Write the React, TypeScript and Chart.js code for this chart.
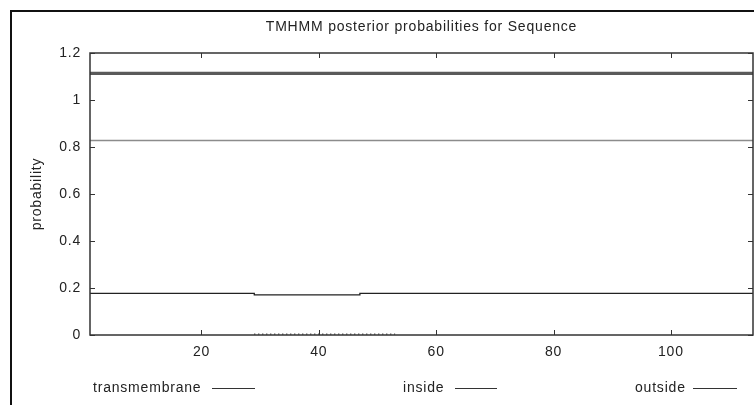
import React, { useEffect, useRef } from "react";
import { Chart, registerables } from "chart.js";

Chart.register(...registerables);

const titleText = "TMHMM posterior probabilities for Sequence";
const yTitle = "probability";
const xMin = 1;
const xMax = 114;
const yMin = 0;
const yMax = 1.2;
const xTickValues = [20, 40, 60, 80, 100];
const yTickValues = [0, 0.2, 0.4, 0.6, 0.8, 1, 1.2];
const yTickLabels = ["0", "0.2", "0.4", "0.6", "0.8", "1", "1.2"];

const legendLabels = ["transmembrane", "inside", "outside"];

// upper thick line
const outsideX = [1, 114];
const outsideY = [1.113, 1.113];
// thin gray line
const upperThinX = [1, 114];
const upperThinY = [0.828, 0.828];
// black line (stepped)
const insideX = [1, 29, 47, 114];
const insideY = [0.177, 0.171, 0.177, 0.177];
// transmembrane (tiny values near 0)
const tmX = [29, 53];
const tmY = [0.004, 0.004];

const FONT = "'Liberation Sans', Arial, sans-serif";
const TEXT = "#222";

function pts(xs: number[], ys: number[]) {
  return xs.map((x, i) => ({ x, y: ys[i] }));
}

const decorPlugin = {
  id: "decor",
  beforeDraw(chart: any) {
    const ctx = chart.ctx;
    (ctx as any).letterSpacing = "0.8px";
  },
  afterDraw(chart: any) {
    const ctx: CanvasRenderingContext2D = chart.ctx;
    const a = chart.chartArea;
    const xs = chart.scales.x;
    const ys = chart.scales.y;
    ctx.save();
    (ctx as any).letterSpacing = "0.8px";
    // outer frame
    ctx.strokeStyle = "#111";
    ctx.lineWidth = 2;
    ctx.strokeRect(11, 11, 800, 500);
    // plot border
    ctx.strokeStyle = "#333";
    ctx.lineWidth = 1.5;
    ctx.strokeRect(a.left, a.top, a.right - a.left, a.bottom - a.top);
    // inward ticks
    ctx.lineWidth = 1;
    const tl = 5;
    ctx.beginPath();
    for (const v of xTickValues) {
      const px = Math.round(xs.getPixelForValue(v)) + 0.5;
      ctx.moveTo(px, a.bottom);
      ctx.lineTo(px, a.bottom - tl);
      ctx.moveTo(px, a.top);
      ctx.lineTo(px, a.top + tl);
    }
    for (const v of yTickValues) {
      const py = Math.round(ys.getPixelForValue(v)) + 0.5;
      ctx.moveTo(a.left, py);
      ctx.lineTo(a.left + tl, py);
      ctx.moveTo(a.right, py);
      ctx.lineTo(a.right - tl, py);
    }
    ctx.stroke();
    // title
    ctx.fillStyle = TEXT;
    ctx.font = `14px ${FONT}`;
    ctx.textBaseline = "middle";
    ctx.textAlign = "center";
    ctx.fillText(titleText, (a.left + a.right) / 2, 27);
    // y title
    ctx.save();
    ctx.translate(37, (a.top + a.bottom) / 2);
    ctx.rotate(-Math.PI / 2);
    ctx.fillText(yTitle, 0, 0);
    ctx.restore();
    // legend
    const legendTextX = [93, 403, 635];
    const legendLineX = [[212, 255], [455, 497], [693, 737]];
    const ly = 388;
    ctx.textAlign = "left";
    legendLabels.forEach((lab, i) => {
      ctx.fillText(lab, legendTextX[i], ly);
      ctx.beginPath();
      ctx.strokeStyle = "#333";
      ctx.lineWidth = 1;
      ctx.moveTo(legendLineX[i][0], ly + 0.5);
      ctx.lineTo(legendLineX[i][1], ly + 0.5);
      ctx.stroke();
    });
    ctx.restore();
  },
};

export default function App() {
  const ref = useRef<HTMLCanvasElement | null>(null);
  useEffect(() => {
    if (!ref.current) return;
    const chart = new Chart(ref.current, {
      type: "line",
      data: {
        datasets: [
          {
            label: "outside",
            data: pts(outsideX, outsideY),
            borderColor: "#5a5a5a",
            borderWidth: 3.2,
            pointRadius: 0,
          },
          {
            label: "upper",
            data: pts(upperThinX, upperThinY),
            borderColor: "#8c8c8c",
            borderWidth: 1.5,
            pointRadius: 0,
          },
          {
            label: "inside",
            data: pts(insideX, insideY),
            borderColor: "#222",
            borderWidth: 1.3,
            pointRadius: 0,
            stepped: true,
          },
          {
            label: "transmembrane",
            data: pts(tmX, tmY),
            borderColor: "#111",
            borderWidth: 1.2,
            borderDash: [1, 3],
            pointRadius: 0,
          },
        ],
      },
      options: {
        animation: false,
        responsive: false,
        layout: { padding: { left: 10, right: 1, top: 53, bottom: 30 } },
        plugins: { legend: { display: false }, tooltip: { enabled: false }, title: { display: false } },
        scales: {
          x: {
            type: "linear",
            min: xMin,
            max: xMax,
            grid: { display: false, drawTicks: false },
            border: { display: false },
            afterBuildTicks: (s: any) => {
              s.ticks = xTickValues.map((v) => ({ value: v }));
            },
            afterFit: (s: any) => {
              s.height = 40;
            },
            ticks: {
              padding: 9,
              color: TEXT,
              font: { family: FONT, size: 14 },
              maxRotation: 0,
              autoSkip: false,
              callback: (v: any) => String(v),
            },
          },
          y: {
            type: "linear",
            min: yMin,
            max: yMax,
            grid: { display: false, drawTicks: false },
            border: { display: false },
            afterBuildTicks: (s: any) => {
              s.ticks = yTickValues.map((v) => ({ value: v }));
            },
            afterFit: (s: any) => {
              s.width = 80;
            },
            ticks: {
              padding: 9,
              color: TEXT,
              font: { family: FONT, size: 14 },
              autoSkip: false,
              callback: (v: any) => {
                const i = yTickValues.indexOf(v);
                return i >= 0 ? yTickLabels[i] : String(v);
              },
            },
          },
        },
      },
      plugins: [decorPlugin],
    });
    return () => chart.destroy();
  }, []);
  return (
    <div style={{ position: "absolute", left: 0, top: 0, width: 754, height: 405, background: "#fff" }}>
      <canvas ref={ref} width={754} height={405} style={{ display: "block" }} />
    </div>
  );
}
